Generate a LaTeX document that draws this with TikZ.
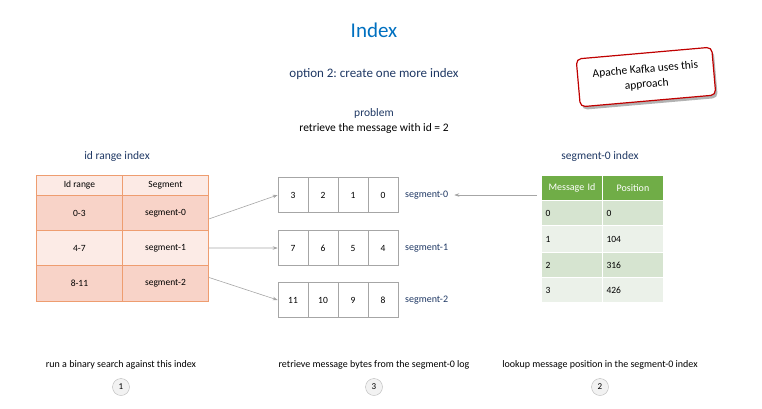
\documentclass[tikz,border=0pt]{standalone}
\usepackage{fontspec}
\setmainfont{Carlito}
\frenchspacing
\usetikzlibrary{arrows.meta,shadows}
\definecolor{ttl}{HTML}{0070C0}
\definecolor{dblue}{HTML}{1F3864}
\definecolor{obord}{HTML}{EE9D70}
\definecolor{ohead}{HTML}{FCEAE5}
\definecolor{odark}{HTML}{F8D3C8}
\definecolor{olight}{HTML}{FCEBE6}
\definecolor{ghead}{HTML}{70AD47}
\definecolor{gdark}{HTML}{D6E4D0}
\definecolor{glight}{HTML}{EBF1E9}
\definecolor{arr}{HTML}{A6A6A6}
\definecolor{kred}{HTML}{C00000}
\tikzset{
  cellL/.style={draw=obord, line width=0.9pt, minimum width=86pt, inner sep=0pt, font=\fontsize{9.5}{11}\selectfont, anchor=north west},
  cellR/.style={draw=white, line width=1pt, minimum width=61pt, inner sep=0pt, text width=53pt, align=left, font=\fontsize{9.5}{11}\selectfont, anchor=north west},
  segcell/.style={draw=gray!70, line width=0.6pt, minimum width=30pt, minimum height=35pt, inner sep=0pt, font=\fontsize{9.5}{11}\selectfont},
  seglab/.style={text=dblue, font=\fontsize{10}{12}\selectfont, anchor=west, inner sep=0pt},
  conn/.style={draw=arr, line width=0.6pt, -{Stealth[length=5pt,width=3.5pt]}},
  note/.style={font=\fontsize{10}{12}\selectfont, inner sep=0pt},
  step circ/.style={circle, draw=gray!55, fill=gray!10, minimum size=17pt, inner sep=0pt, font=\fontsize{9}{10}\selectfont}
}
\begin{document}
\begin{tikzpicture}[x=1pt,y=-1pt]
\useasboundingbox (0,0) rectangle (762,408);
% titles
\node[text=ttl, font=\fontsize{21}{24}\selectfont] (title) at (374,30) {Index};
\node[text=dblue, font=\fontsize{13}{15}\selectfont] (opt) at (374,74) {option 2: create one more index};
\node[text=dblue, font=\fontsize{11.5}{13}\selectfont] (prob) at (374,113) {problem};
\node[font=\fontsize{11.5}{13}\selectfont] (retr) at (374,128) {retrieve the message with id = 2};
% Kafka note
\node[draw=kred, line width=1.2pt, fill=white, rounded corners=5pt, rotate=5, minimum width=136pt, minimum height=48pt, align=center, font=\fontsize{11.5}{15}\selectfont, drop shadow={shadow xshift=2pt, shadow yshift=-3pt, fill=black!60}] (kafka) at (646,77) {Apache Kafka uses this\\approach};
% left table
\node[text=dblue, font=\fontsize{11.5}{13}\selectfont] (lt) at (117,156) {id range index};
\node[cellL, fill=ohead, minimum height=20pt] (h1) at (36,175) {Id range};
\node[cellL, fill=ohead, minimum height=20pt] (h2) at (122,175) {Segment};
\node[cellL, fill=odark, minimum height=35pt] (a1) at (36,195) {0-3};
\node[cellL, fill=odark, minimum height=35pt] (a2) at (122,195) {segment-0};
\node[cellL, fill=olight, minimum height=35pt] (b1) at (36,230) {4-7};
\node[cellL, fill=olight, minimum height=35pt] (b2) at (122,230) {segment-1};
\node[cellL, fill=odark, minimum height=36pt] (c1) at (36,265) {8-11};
\node[cellL, fill=odark, minimum height=36pt] (c2) at (122,265) {segment-2};
% segments
\foreach \r/\y/\lab/\a/\b/\c/\d in {0/195/segment-0/3/2/1/0, 1/248/segment-1/7/6/5/4, 2/300/segment-2/11/10/9/8}{
  \node[segcell] (s\r a) at (293,\y) {\a};
  \node[segcell] (s\r b) at (323,\y) {\b};
  \node[segcell] (s\r c) at (353,\y) {\c};
  \node[segcell] (s\r d) at (383,\y) {\d};
  \node[seglab] (l\r) at (405,\y) {\lab};
}
% connectors
\draw[conn] (a2.east) ++(0,6) coordinate (a2e) -- (s0a.west);
\draw[conn] (b2.east) -- (s1a.west);
\draw[conn] (c2.east) ++(0,-6) coordinate (c2e) -- (s2a.west);
% right table
\node[text=dblue, font=\fontsize{11.5}{13}\selectfont] (rt) at (600,156) {segment-0 index};
\node[cellR, fill=ghead, text=white, minimum height=25pt, align=center, font=\fontsize{10}{12}\selectfont] (gh1) at (541,175) {Message Id};
\node[cellR, fill=ghead, text=white, minimum height=25pt, align=center, font=\fontsize{10}{12}\selectfont] (gh2) at (602,175) {Position};
\node[cellR, fill=gdark, minimum height=25pt] (g01) at (541,200) {0};
\node[cellR, fill=gdark, minimum height=25pt] (g02) at (602,200) {0};
\node[cellR, fill=glight, minimum height=27pt] (g11) at (541,225) {1};
\node[cellR, fill=glight, minimum height=27pt] (g12) at (602,225) {104};
\node[cellR, fill=gdark, minimum height=25pt] (g21) at (541,252) {2};
\node[cellR, fill=gdark, minimum height=25pt] (g22) at (602,252) {316};
\node[cellR, fill=glight, minimum height=25pt] (g31) at (541,277) {3};
\node[cellR, fill=glight, minimum height=25pt] (g32) at (602,277) {426};
\coordinate (rtl) at (537,195);
\draw[conn] (rtl) -- ([xshift=6pt]l0.east);
% bottom
\node[note] (n1) at (121,365) {run a binary search against this index};
\node[note] (n3) at (374,365) {retrieve message bytes from the segment-0 log};
\node[note] (n2) at (600,365) {lookup message position in the segment-0 index};
\node[step circ] (c1s) at (121,387) {1};
\node[step circ] (c3s) at (374,387) {3};
\node[step circ] (c2s) at (600,387) {2};
\end{tikzpicture}
\end{document}
